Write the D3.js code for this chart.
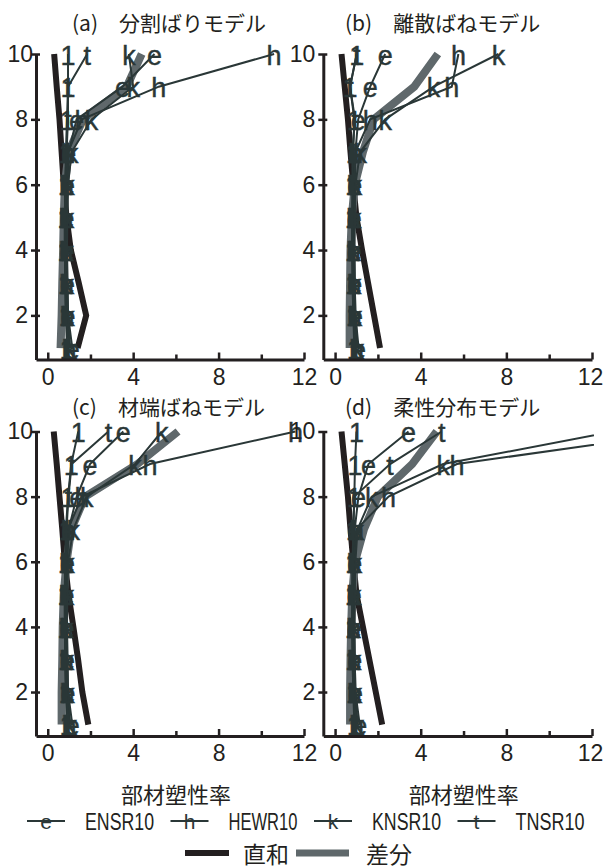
<!DOCTYPE html>
<html>
<head>
<meta charset="utf-8">
<script src="https://cdn.jsdelivr.net/npm/d3@7"></script>
<style>
  html, body { margin: 0; padding: 0; background: #fff; }
  svg { display: block; }
</style>
</head>
<body>
<svg id="chart" width="603" height="868"></svg>
<script>
// ---- data: member ductility ratio per story (stories 1..10) ----
const levels = [1, 2, 3, 4, 5, 6, 7, 8, 9, 10];

const panelTitles = ["(a)\u3000分割ばりモデル", "(b)\u3000離散ばねモデル", "(c)\u3000材端ばねモデル", "(d)\u3000柔性分布モデル"];
const seriesNames = ["ENSR10", "HEWR10", "KNSR10", "TNSR10"];
const seriesGlyphs = ["e", "h", "k", "t"];
const extraGlyph = "1";
const sumLabel = "直和";
const diffLabel = "差分";
const xTitle = "部材塑性率";
const xTicks = [0, 2, 4, 6, 8, 10, 12];
const xLabeled = [0, 4, 8, 12];
const yTicks = [2, 4, 6, 8, 10];

// (a) 分割ばりモデル
const ensrA = [1.15, 0.95, 0.92, 0.90, 0.90, 0.92, 0.98, 1.35, 3.50, 5.00];
const hewrA = [1.00, 0.90, 0.88, 0.86, 0.86, 0.88, 0.95, 1.60, 5.20, 10.6];
const knsrA = [1.05, 0.95, 0.92, 0.90, 0.92, 0.95, 1.12, 2.05, 4.00, 3.80];
const tnsrA = [1.00, 0.85, 0.82, 0.80, 0.80, 0.82, 0.88, 0.95, 0.95, 1.85];
const oneA  = [0.90, 0.85, 0.82, 0.80, 0.80, 0.82, 0.85, 0.90, 0.95, 0.95];
const sumA  = [1.40, 1.80, 1.45, 1.08, 0.88, 0.75, 0.65, 0.55, 0.42, 0.30];
const diffA = [0.60, 0.65, 0.68, 0.72, 0.75, 0.80, 0.98, 1.65, 3.70, 4.40];

// (b) 離散ばねモデル
const ensrB = [1.10, 0.95, 0.92, 0.90, 0.90, 0.92, 0.95, 1.08, 1.64, 2.34];
const hewrB = [1.00, 0.90, 0.88, 0.86, 0.86, 0.88, 0.95, 1.64, 5.45, 5.76];
const knsrB = [1.05, 0.95, 0.92, 0.90, 0.92, 0.95, 1.17, 2.34, 4.60, 7.63];
const tnsrB = [1.00, 0.85, 0.82, 0.80, 0.80, 0.82, 0.80, 0.93, 0.70, 1.01];
const oneB  = [0.90, 0.85, 0.82, 0.80, 0.80, 0.82, 0.85, 0.90, 0.70, 1.01];
const sumB  = [2.10, 1.82, 1.54, 1.26, 1.00, 0.85, 0.72, 0.60, 0.45, 0.30];
const diffB = [0.68, 0.68, 0.70, 0.72, 0.78, 0.92, 1.30, 1.80, 3.70, 4.80];

// (c) 材端ばねモデル
const ensrC = [1.15, 0.95, 0.92, 0.90, 0.90, 0.92, 0.98, 1.36, 1.98, 3.54];
const hewrC = [1.00, 0.90, 0.88, 0.86, 0.86, 0.88, 0.95, 1.60, 4.79, 11.6];
const knsrC = [1.05, 0.95, 0.92, 0.90, 0.92, 0.95, 1.20, 1.83, 4.09, 5.34];
const tnsrC = [1.00, 0.85, 0.82, 0.80, 0.80, 0.82, 0.88, 0.97, 1.12, 2.84];
const oneC  = [0.90, 0.85, 0.82, 0.80, 0.80, 0.82, 0.85, 0.95, 1.10, 1.43];
const sumC  = [1.90, 1.62, 1.42, 1.20, 0.97, 0.80, 0.68, 0.55, 0.42, 0.28];
const diffC = [0.65, 0.65, 0.68, 0.70, 0.75, 0.88, 1.10, 1.75, 4.20, 6.10];

// (d) 柔性分布モデル
const ensrD = [1.15, 0.95, 0.92, 0.90, 0.90, 0.92, 0.92, 1.09, 1.56, 3.43];
const hewrD = [1.00, 0.90, 0.88, 0.86, 0.86, 0.88, 1.00, 2.50, 5.69, 16.5];
const knsrD = [1.05, 0.95, 0.92, 0.90, 0.92, 0.95, 1.05, 1.71, 5.05, 13.0];
const tnsrD = [1.00, 0.85, 0.82, 0.80, 0.80, 0.82, 0.85, 0.90, 2.57, 4.98];
const oneD  = [0.90, 0.85, 0.82, 0.80, 0.80, 0.82, 0.85, 0.90, 0.93, 1.00];
const sumD  = [2.20, 1.90, 1.60, 1.30, 1.00, 0.85, 0.72, 0.60, 0.45, 0.30];
const diffD = [0.70, 0.70, 0.72, 0.75, 0.80, 0.93, 1.35, 2.00, 3.60, 4.75];

// ---- panel table built from the arrays ----
const panels = [
  { title: panelTitles[0], series: [ensrA, hewrA, knsrA, tnsrA], extra: oneA, sum: sumA, diff: diffA },
  { title: panelTitles[1], series: [ensrB, hewrB, knsrB, tnsrB], extra: oneB, sum: sumB, diff: diffB },
  { title: panelTitles[2], series: [ensrC, hewrC, knsrC, tnsrC], extra: oneC, sum: sumC, diff: diffC },
  { title: panelTitles[3], series: [ensrD, hewrD, knsrD, tnsrD], extra: oneD, sum: sumD, diff: diffD }
];

// ---- styling / layout ----
const INK = "#231f20";
const SERIES_COLOR = "#2a3737";
const DIFF_COLOR = "#5f686b";
const LATIN = "'Liberation Sans', Arial, sans-serif";
const CJK = "'Noto Sans CJK JP', 'Noto Sans CJK SC', sans-serif";

const cols = [ { x0: 36, x1: 304, titleX: 72 }, { x0: 323.3, x1: 592, titleX: 345 } ];
const rows = [ { top: 54, bottom: 359.5, titleY: 22 }, { top: 431.5, bottom: 736, titleY: 406 } ];
const X_MAX = 12;

const svg = d3.select("#chart");
const defs = svg.append("defs");

panels.forEach((p, i) => {
  const ci = i % 2, ri = Math.floor(i / 2);
  const col = cols[ci], row = rows[ri];
  const x = d3.scaleLinear().domain([-0.55, X_MAX]).range([col.x0, col.x1]);
  const y = d3.scaleLinear().domain([0.65, 10]).range([row.bottom, row.top]);
  const g = svg.append("g");

  // panel title
  g.append("text")
    .attr("x", col.titleX).attr("y", row.titleY)
    .attr("dominant-baseline", "central")
    .attr("font-family", CJK).attr("font-size", 21).attr("fill", INK)
    .text(p.title);

  // plotting area clip (lines running past 12 are cut at the frame)
  const clipId = "clip" + i;
  defs.append("clipPath").attr("id", clipId).append("rect")
    .attr("x", col.x0 - 10).attr("y", row.top - 30)
    .attr("width", col.x1 - col.x0 + 12).attr("height", row.bottom - row.top + 30);
  const plot = g.append("g").attr("clip-path", `url(#${clipId})`);

  const line = d3.line().x(d => x(d[1])).y(d => y(d[0]));
  const pts = arr => levels.map((lv, k) => [lv, arr[k]]);

  // 直和 (thick black)
  plot.append("path").datum(pts(p.sum)).attr("d", line)
    .attr("fill", "none").attr("stroke", INK).attr("stroke-width", 6);
  // 差分 (thick grey)
  plot.append("path").datum(pts(p.diff)).attr("d", line)
    .attr("fill", "none").attr("stroke", DIFF_COLOR).attr("stroke-width", 8);

  // thin series lines with glyph markers (unlabelled "1" series drawn first)
  const all = [{ data: p.extra, glyph: extraGlyph }]
    .concat(p.series.map((s, k) => ({ data: s, glyph: seriesGlyphs[k] })));
  all.forEach(s => {
    plot.append("path").datum(pts(s.data)).attr("d", line)
      .attr("fill", "none").attr("stroke", SERIES_COLOR).attr("stroke-width", 2);
  });
  all.forEach(s => {
    plot.append("g").selectAll("text").data(pts(s.data).filter(d => d[1] <= X_MAX)).join("text")
      .attr("x", d => x(d[1])).attr("y", d => y(d[0]))
      .attr("dy", "0.4em").attr("text-anchor", "middle")
      .attr("font-family", LATIN).attr("font-size", 27).attr("fill", SERIES_COLOR)
      .attr("stroke", SERIES_COLOR).attr("stroke-width", 0.4)
      .text(s.glyph);
  });

  // y axis: ticks cross the axis line
  const yAxis = g.append("g").attr("transform", `translate(${col.x0},0)`)
    .call(d3.axisLeft(y).tickValues(yTicks).tickSizeInner(5).tickSizeOuter(0));
  yAxis.select(".domain").attr("stroke", INK).attr("stroke-width", 3);
  yAxis.selectAll(".tick line").attr("x1", 4).attr("x2", -5).attr("stroke", INK).attr("stroke-width", 2.5);
  yAxis.selectAll(".tick text")
    .attr("x", d => (ci === 0 && d >= 10) ? -3 : -8)
    .attr("font-family", LATIN).attr("font-size", 23).attr("fill", INK);

  // x axis: inward ticks, labels every 4
  const xAxis = g.append("g").attr("transform", `translate(0,${row.bottom})`)
    .call(d3.axisBottom(x).tickValues(xTicks).tickSizeInner(0).tickSizeOuter(0).tickPadding(9)
      .tickFormat(d => xLabeled.includes(d) ? d : ""));
  xAxis.select(".domain").attr("stroke", INK).attr("stroke-width", 3);
  xAxis.selectAll(".tick line").attr("y1", 0).attr("y2", d => xLabeled.includes(d) ? -7 : -5)
    .attr("stroke", INK).attr("stroke-width", 2.5);
  xAxis.selectAll(".tick text")
    .attr("x", d => (ci === 1 && d === 12) ? -2 : 0)
    .attr("font-family", LATIN).attr("font-size", 23).attr("fill", INK);

  // x axis title under the bottom row
  if (ri === 1) {
    g.append("text")
      .attr("x", (col.x0 + col.x1) / 2 + 6).attr("y", 793)
      .attr("dominant-baseline", "central").attr("text-anchor", "middle")
      .attr("font-family", CJK).attr("font-size", 22).attr("fill", INK)
      .text(xTitle);
  }
});

// ---- legend ----
const legend = svg.append("g");
const row1Y = 821, row2Y = 853;
seriesNames.forEach((name, k) => {
  const x0 = 27 + k * 143.5;
  legend.append("line").attr("x1", x0).attr("x2", x0 + 38).attr("y1", row1Y).attr("y2", row1Y)
    .attr("stroke", SERIES_COLOR).attr("stroke-width", 2);
  legend.append("text").attr("x", x0 + 19).attr("y", row1Y).attr("dy", "0.36em")
    .attr("text-anchor", "middle").attr("font-family", LATIN).attr("font-size", 21)
    .attr("fill", SERIES_COLOR).text(seriesGlyphs[k]);
  legend.append("text").attr("x", x0 + 58).attr("y", row1Y).attr("dy", "0.36em")
    .attr("font-family", LATIN).attr("font-size", 24).attr("fill", INK)
    .attr("textLength", 69).attr("lengthAdjust", "spacingAndGlyphs")
    .text(name);
});

legend.append("line").attr("x1", 185).attr("x2", 229).attr("y1", row2Y).attr("y2", row2Y)
  .attr("stroke", INK).attr("stroke-width", 6);
legend.append("text").attr("x", 243).attr("y", row2Y).attr("dominant-baseline", "central")
  .attr("font-family", CJK).attr("font-size", 23).attr("fill", INK).text(sumLabel);
legend.append("line").attr("x1", 296).attr("x2", 349).attr("y1", row2Y).attr("y2", row2Y)
  .attr("stroke", DIFF_COLOR).attr("stroke-width", 7);
legend.append("text").attr("x", 366).attr("y", row2Y).attr("dominant-baseline", "central")
  .attr("font-family", CJK).attr("font-size", 23).attr("fill", INK).text(diffLabel);
</script>
</body>
</html>
